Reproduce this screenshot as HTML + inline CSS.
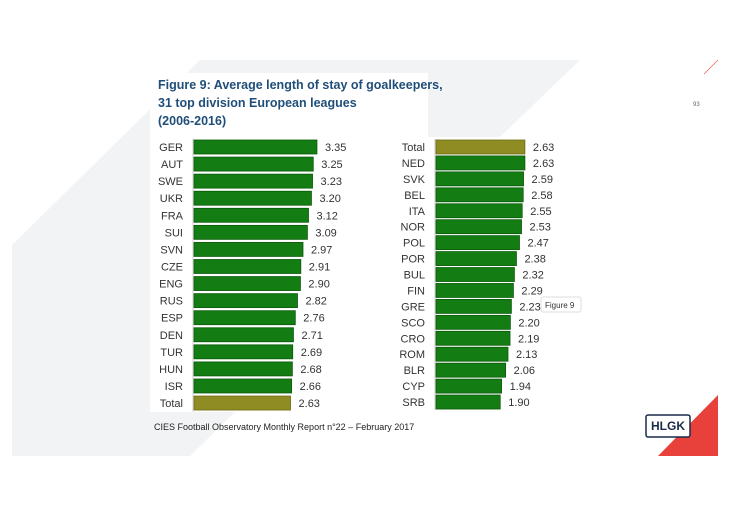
<!DOCTYPE html>
<html><head><meta charset="utf-8"><style>
body{margin:0;width:730px;height:517px;background:#fff;overflow:hidden;font-family:"Liberation Sans",sans-serif}
</style></head><body>
<svg id="c" width="730" height="517" xmlns="http://www.w3.org/2000/svg">
<polygon points="200,60 580,60 500,137 150,137 150,412 235,412 190,456 12,456 12,245" fill="#f2f3f5"/>
<rect x="150" y="73" width="278" height="339" fill="#fff"/>
<text x="158" y="89" font-size="12.5" font-weight="bold" fill="#1f4e79">Figure 9: Average length of stay of goalkeepers,</text>
<text x="158" y="107" font-size="12.5" font-weight="bold" fill="#1f4e79">31 top division European leagues</text>
<text x="158" y="125" font-size="12.5" font-weight="bold" fill="#1f4e79">(2006-2016)</text>
<text x="693" y="106" font-size="6" fill="#666">93</text>
<line x1="704" y1="74" x2="718" y2="60" stroke="#e66" stroke-width="0.8"/>
<polygon points="718,395 718,456 658,456" fill="#e8403a"/>
<rect x="646" y="415" width="44" height="22" fill="#fff" stroke="#1a2a4a" stroke-width="1.5" rx="2"/>
<text x="668" y="430" font-size="12" font-weight="bold" fill="#1a2a4a" text-anchor="middle">HLGK</text>
<text x="154" y="430" font-size="9" fill="#222">CIES Football Observatory Monthly Report n°22 – February 2017</text>
<g id="left"></g><g id="right"></g>
<rect x="541" y="297" width="40" height="15" fill="#fff" stroke="#ddd" rx="2"/>
<text x="545" y="308" font-size="8" fill="#333">Figure 9</text>
</svg>
<script>
const leftCats=["GER","AUT","SWE","UKR","FRA","SUI","SVN","CZE","ENG","RUS","ESP","DEN","TUR","HUN","ISR","Total"];
const leftVals=[3.35,3.25,3.23,3.20,3.12,3.09,2.97,2.91,2.90,2.82,2.76,2.71,2.69,2.68,2.66,2.63];
const rightCats=["Total","NED","SVK","BEL","ITA","NOR","POL","POR","BUL","FIN","GRE","SCO","CRO","ROM","BLR","CYP","SRB"];
const rightVals=[2.63,2.63,2.59,2.58,2.55,2.53,2.47,2.38,2.32,2.29,2.23,2.20,2.19,2.13,2.06,1.94,1.90];
const NS="http://www.w3.org/2000/svg";
function mk(t,a){const e=document.createElementNS(NS,t);for(const k in a)e.setAttribute(k,a[k]);return e;}
function draw(gid,cats,vals,x0,scale,y0,step,side){
  const g=document.getElementById(gid);
  const ax=mk('line',{x1:x0,y1:y0-step/2,x2:x0,y2:y0+step*(cats.length-0.5),stroke:'#ccc','stroke-width':1});
  
  
  g.appendChild(ax);
  cats.forEach((c,i)=>{
    const yc=y0+i*step, w=vals[i]*scale, tot=c==="Total";
    const r=mk('rect',{x:x0+1,y:yc-7,width:w,height:14,fill:tot?'#8f8c24':'#137d13',stroke:tot?'#6e6b10':'#0a5a0a','stroke-width':0.8});
    
    
    g.appendChild(r);
    const l=mk('text',{x:x0-10,y:yc+4,'font-size':11,fill:'#333','text-anchor':'end'});
    l.textContent=c;
    
    
    g.appendChild(l);
    const v=mk('text',{x:x0+w+9,y:yc+4,'font-size':11,fill:'#333'});
    v.textContent=vals[i].toFixed(2);
    
    
    g.appendChild(v);
  });
}
draw('left',leftCats,leftVals,193,36.7,147,17.07,'left');
draw('right',rightCats,rightVals,435,33.8,147,15.94,'right');
</script>
</body></html>
